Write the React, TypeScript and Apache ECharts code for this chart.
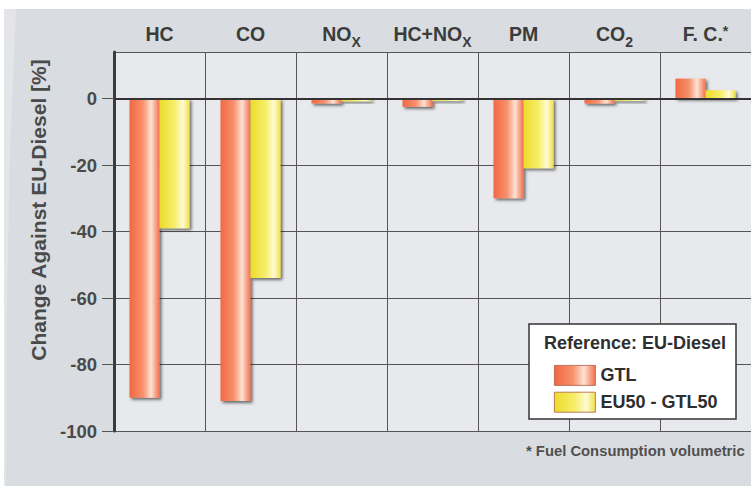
import React, { useEffect, useRef } from "react";
import * as echarts from "echarts";

const categories = ["HC", "CO", "NOX", "HC+NOX", "PM", "CO2", "F. C.*"];
const gtl = [-90, -91, -1.5, -2.5, -30, -1.5, 6];
const eu50gtl50 = [-39, -54, -0.8, -0.7, -21, -0.7, 2.5];
const yTicks = { min: -100, max: 14, interval: 20 };
const seriesNames = ["GTL", "EU50 - GTL50"];

const labelRich: Record<string, string> = {
  HC: "{a|HC}",
  CO: "{a|CO}",
  NOX: "{a|NO}{sub|X}",
  "HC+NOX": "{a|HC+NO}{sub|X}",
  PM: "{a|PM}",
  CO2: "{a|CO}{sub|2}",
  "F. C.*": "{a|F. C.}{sup|*}",
};

export default function App() {
  const ref = useRef<HTMLDivElement>(null);
  useEffect(() => {
    if (!ref.current) return;
    const chart = echarts.init(ref.current, null, { renderer: "svg" });
    const orange = new echarts.graphic.LinearGradient(0, 0, 1, 0, [
      { offset: 0, color: "#f26842" },
      { offset: 0.45, color: "#f7916d" },
      { offset: 0.72, color: "#fde2d4" },
      { offset: 1, color: "#f2704c" },
    ]);
    const yellow = new echarts.graphic.LinearGradient(0, 0, 1, 0, [
      { offset: 0, color: "#ebdc2a" },
      { offset: 0.5, color: "#f6ee6a" },
      { offset: 0.78, color: "#fffbd2" },
      { offset: 1, color: "#efe04a" },
    ]);
    const shadow = {
      shadowColor: "rgba(0,0,0,0.55)",
      shadowBlur: 3,
      shadowOffsetX: 2,
      shadowOffsetY: 2,
    };
    chart.setOption({
      animation: false,
      backgroundColor: "#ffffff",
      textStyle: { fontFamily: "Liberation Sans, Arial, sans-serif" },
      graphic: [
        {
          type: "rect",
          z: -100,
          shape: { x: 4, y: 9, width: 747, height: 477 },
          style: { fill: "#d9dce0" },
          silent: true,
        },
        {
          type: "polygon",
          z: -99,
          shape: { points: [[4, 9], [16, 9], [10, 150], [7, 300], [6, 486], [4, 486]] },
          style: { fill: "#e3e5e8" },
          silent: true,
        },
        {
          type: "text",
          z: 10,
          x: 38,
          y: 210,
          rotation: Math.PI / 2,
          style: {
            text: "Change Against EU-Diesel [%]",
            fill: "#4a4a4a",
            font: "bold 21px Liberation Sans, Arial, sans-serif",
            align: "center",
            verticalAlign: "middle",
          },
        },
        {
          type: "rect",
          z: 100,
          shape: { x: 529, y: 324, width: 207, height: 95 },
          style: { fill: "#ffffff", stroke: "#333333", lineWidth: 1.5 },
        },
        {
          type: "text",
          z: 101,
          x: 635,
          y: 343,
          style: {
            text: "Reference: EU-Diesel",
            fill: "#2e2e2e",
            font: "bold 18px Liberation Sans, Arial, sans-serif",
            align: "center",
            verticalAlign: "middle",
          },
        },
        {
          type: "text",
          z: 10,
          x: 526,
          y: 451,
          style: {
            text: "* Fuel Consumption volumetric",
            fill: "#505050",
            font: "bold 14.8px Liberation Sans, Arial, sans-serif",
            align: "left",
            verticalAlign: "middle",
          },
        },
      ],
      legend: {
        z: 200,
        orient: "vertical",
        left: 549,
        top: 360,
        itemWidth: 41,
        itemHeight: 20,
        itemGap: 6,
        icon: "rect",
        data: seriesNames,
        itemStyle: { borderColor: "#b06040", borderWidth: 0.8 },
        textStyle: { fontSize: 18, fontWeight: "bold", color: "#2e2e2e" },
      },
      grid: {
        left: 114,
        right: 0,
        top: 52,
        bottom: 55,
        show: true,
        backgroundColor: "#e7e9ec",
        borderWidth: 0,
      },
      xAxis: {
        type: "category",
        position: "top",
        data: categories,
        axisLine: { show: true, lineStyle: { color: "#4a4a4a", width: 2 } },
        axisTick: { show: false },
        splitLine: { show: true, interval: 0, lineStyle: { color: "#555", width: 1 } },
        axisLabel: {
          interval: 0,
          margin: 3,
          formatter: (v: string) => labelRich[v] || v,
          rich: {
            a: { fontSize: 19.5, fontWeight: "bold", color: "#3c3c3c", lineHeight: 30 },
            sub: { fontSize: 14, fontWeight: "bold", color: "#3c3c3c", lineHeight: 14, verticalAlign: "bottom" },
            sup: { fontSize: 14, fontWeight: "bold", color: "#3c3c3c", lineHeight: 14, verticalAlign: "top", padding: [5, 0, 0, 0] },
          },
        },
      },
      yAxis: {
        type: "value",
        min: yTicks.min,
        max: yTicks.max,
        interval: yTicks.interval,
        axisLine: { show: true, onZero: false, lineStyle: { color: "#3a3a3a", width: 3 } },
        axisTick: { show: true, length: 12, lineStyle: { color: "#555", width: 1 } },
        splitLine: { show: true, lineStyle: { color: "#555", width: 1 } },
        axisLabel: {
          margin: 17,
          fontSize: 18.5,
          fontWeight: "bold",
          color: "#4a4a4a",
          showMaxLabel: false,
        },
      },
      series: [
        {
          name: seriesNames[0],
          type: "bar",
          data: gtl,
          barWidth: 30,
          barGap: "0%",
          itemStyle: { color: orange, ...shadow },
          markLine: {
            silent: true,
            symbol: "none",
            label: { show: false },
            lineStyle: { color: "#333", width: 2, type: "solid" },
            data: [{ yAxis: 0 }],
          },
        },
        {
          name: seriesNames[1],
          type: "bar",
          data: eu50gtl50,
          barWidth: 30,
          barGap: "0%",
          itemStyle: { color: yellow, ...shadow },
        },
      ],
    });
    return () => chart.dispose();
  }, []);
  return (
    <div
      ref={ref}
      style={{ position: "absolute", left: 0, top: 0, width: 751, height: 486 }}
    />
  );
}
